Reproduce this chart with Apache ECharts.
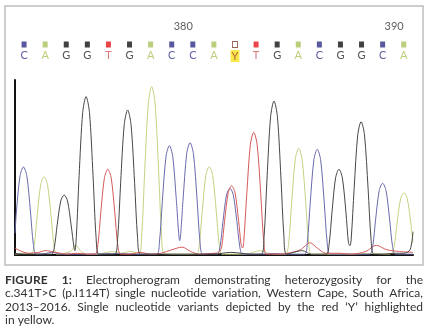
<!DOCTYPE html>
<html>
<head>
<meta charset="utf-8">
<script src="https://cdn.jsdelivr.net/npm/echarts@6/dist/echarts.min.js"></script>
<style>
  html, body { margin: 0; padding: 0; background: #fff; }
  #chart { width: 431px; height: 334px; }
</style>
</head>
<body>
<div id="chart"></div>
<script>
// base calls, one per base position (x = index)
const bases = ['C', 'A', 'G', 'G', 'T', 'G', 'A', 'C', 'C', 'A', 'Y', 'T', 'G', 'A', 'C', 'G', 'G', 'C', 'A'];
// position numbers shown above the sequence
const tickBases = [8, 18];
const tickLabels = ['380', '390'];

// traces: [base position, signal]
const traceC = [
  [-0.43, 125], [-0.36, 252], [-0.19, 453], [-0.03, 503], [0.13, 453], [0.30, 252], [0.44, 60], [0.57, 5],
  [1.0, 8], [1.3, 15], [1.8, 5], [3.0, 5], [4.5, 8], [5.5, 5], [6.29, 5],
  [6.42, 75], [6.56, 313], [6.73, 563], [6.89, 625], [7.05, 563], [7.22, 313], [7.38, 82],
  [7.54, 321], [7.71, 578], [7.87, 642], [8.03, 578], [8.2, 321], [8.34, 77], [8.47, 5],
  [9.0, 8], [9.16, 5], [9.29, 46], [9.43, 191], [9.6, 343], [9.76, 381], [9.92, 343], [10.09, 191], [10.23, 46], [10.36, 5],
  [11.0, 5], [12.0, 8], [12.5, 5], [13.3, 5],
  [13.43, 72], [13.57, 302], [13.74, 544], [13.9, 604], [14.06, 544], [14.23, 302], [14.37, 72], [14.5, 5],
  [15.0, 5], [16.0, 5], [16.4, 5],
  [16.53, 49], [16.67, 205], [16.84, 369], [17.0, 410], [17.16, 369], [17.33, 205], [17.47, 49], [17.6, 5], [18.44, 5]
];
const traceA = [
  [-0.43, 5], [0.1, 10], [0.35, 8],
  [0.48, 54], [0.62, 224], [0.79, 402], [0.95, 447], [1.11, 402], [1.28, 224], [1.42, 54], [1.55, 5],
  [2.2, 20], [2.45, 55], [2.7, 20], [3.0, 5], [3.5, 5], [4.2, 20], [4.6, 10], [5.0, 20], [5.45, 10],
  [5.58, 115], [5.72, 481], [5.89, 866], [6.05, 962], [6.21, 866], [6.38, 481], [6.52, 115], [6.65, 8],
  [7.5, 5], [8.18, 8],
  [8.31, 61], [8.45, 253], [8.62, 455], [8.78, 505], [8.94, 455], [9.11, 253], [9.25, 61], [9.38, 5],
  [10.0, 5], [10.5, 5], [11.2, 25], [11.6, 10], [12.2, 5], [12.42, 5],
  [12.55, 73], [12.69, 305], [12.86, 549], [13.02, 610], [13.18, 549], [13.35, 305], [13.49, 73], [13.62, 5],
  [14.0, 5], [15.5, 5], [16.5, 10], [17.2, 5], [17.41, 8],
  [17.54, 43], [17.68, 178], [17.85, 320], [18.01, 356], [18.17, 320], [18.34, 178], [18.44, 70]
];
const traceG = [
  [-0.43, 10], [0.0, 5], [0.5, 5], [1.0, 5], [1.3, 5],
  [1.43, 41], [1.57, 172], [1.74, 309], [1.9, 343], [2.06, 309], [2.23, 172], [2.37, 41], [2.41, 25],
  [2.48, 109], [2.61, 453], [2.78, 815], [2.94, 905], [3.1, 815], [3.27, 453], [3.41, 109], [3.54, 5],
  [3.9, 5], [4.31, 5],
  [4.44, 99], [4.58, 415], [4.75, 746], [4.91, 829], [5.07, 746], [5.24, 415], [5.38, 99], [5.51, 5],
  [6.0, 5], [7.0, 5], [8.0, 5], [9.0, 5], [9.8, 15], [10.3, 10], [10.7, 5], [11.25, 5],
  [11.38, 106], [11.52, 440], [11.69, 792], [11.85, 880], [12.01, 792], [12.18, 440], [12.32, 106], [12.45, 5],
  [13.2, 25], [13.6, 5], [14.33, 5],
  [14.46, 59], [14.6, 245], [14.77, 441], [14.93, 490], [15.09, 441], [15.26, 245], [15.38, 70], [15.45, 53],
  [15.51, 91], [15.65, 381], [15.82, 686], [15.98, 762], [16.14, 686], [16.31, 381], [16.45, 91], [16.58, 5],
  [17.0, 5], [17.6, 10], [18.0, 10], [18.3, 30], [18.44, 133]
];
const traceT = [
  [-0.43, 40], [-0.2, 25], [0.2, 10], [0.7, 15], [1.0, 25], [1.5, 15], [2.0, 5], [2.5, 10], [3.0, 5], [3.37, 5],
  [3.5, 59], [3.64, 245], [3.81, 441], [3.97, 490], [4.13, 441], [4.3, 245], [4.44, 59], [4.57, 5],
  [5.0, 5], [5.5, 15], [6.0, 5], [6.5, 10], [7.0, 30], [7.5, 45], [7.9, 20], [8.3, 5], [9.0, 10], [9.24, 15],
  [9.37, 48], [9.51, 198], [9.68, 356], [9.84, 396], [10.0, 356], [10.17, 198], [10.29, 60], [10.36, 40],
  [10.42, 84], [10.56, 351], [10.73, 631], [10.89, 701], [11.05, 631], [11.22, 351], [11.36, 84], [11.49, 5],
  [12.0, 5], [12.5, 10], [13.1, 30], [13.55, 70], [13.9, 40], [14.3, 10], [15.0, 10], [15.5, 5],
  [16.2, 20], [16.7, 55], [17.2, 30], [17.8, 20], [18.44, 15]
];

const captionLines = [
  'FIGURE 1: Electropherogram demonstrating heterozygosity for the',
  'c.341T>C (p.I114T) single nucleotide variation, Western Cape, South Africa,',
  '2013\u20132016. Single nucleotide variants depicted by the red \u2018Y\u2019 highlighted',
  'in yellow.'
];

const baseStyle = {
  C: { square: '#2e2e88', text: '#34348a' },
  A: { square: '#a9c35a', text: '#a9c35a' },
  G: { square: '#111111', text: '#222222' },
  T: { square: '#e6161c', text: '#d45a5a' },
  Y: { square: '#ffffff', text: '#b0403a' }
};
const traceColors = { C: '#6a6aae', A: '#c4d282', G: '#474747', T: '#d65a5a' };

const chart = echarts.init(document.getElementById('chart'), null, { renderer: 'canvas' });

// caption: justified lines, word by word
const FONT = 'Lato';
const ctx = document.createElement('canvas').getContext('2d');
function wordWidth(w, size, bold) {
  ctx.font = (bold ? 'bold ' : '') + size + 'px ' + FONT;
  return ctx.measureText(w).width;
}
const capLeft = 5, capRight = 423;
ctx.font = '11px ' + FONT;
const capSize = Math.min(12, 11 * (capRight - capLeft - 1) / ctx.measureText(captionLines[1]).width);
const capY = [280, 293.5, 307, 320];
const captionGraphics = [];
captionLines.forEach((line, li) => {
  const words = line.split(' ');
  const isBold = (wi) => li === 0 && wi < 2;
  const widths = words.map((w, wi) => wordWidth(w, capSize, isBold(wi)));
  const total = widths.reduce((a, b) => a + b, 0);
  const last = li === captionLines.length - 1;
  const gap = last ? wordWidth(' ', capSize, false) : (capRight - capLeft - total) / (words.length - 1);
  let x = capLeft;
  words.forEach((w, wi) => {
    captionGraphics.push({
      type: 'text', x: x, y: capY[li],
      style: {
        text: w, fill: '#333',
        font: (isBold(wi) ? 'bold ' : '') + capSize + 'px ' + FONT,
        verticalAlign: 'middle', textVerticalAlign: 'middle'
      }
    });
    x += widths[wi] + gap;
  });
});

const xMin = -0.43, xMax = 18.44;

function traceSeries(name, data) {
  return {
    name: name, type: 'line', xAxisIndex: 0, yAxisIndex: 0,
    data: data, showSymbol: false, smooth: 0.3, silent: true,
    lineStyle: { width: 1, color: traceColors[name] }
  };
}

const option = {
  backgroundColor: '#fff',
  animation: false,
  grid: [
    { left: 15, right: 18, top: 80, bottom: 79 },
    { left: 15, right: 18, top: 20, height: 40 }
  ],
  xAxis: [
    {
      type: 'value', gridIndex: 0, min: xMin, max: xMax,
      axisLine: { show: true, onZero: false, lineStyle: { color: '#111', width: 2 } },
      axisTick: { show: false }, axisLabel: { show: false }, splitLine: { show: false }
    },
    { type: 'value', gridIndex: 1, min: xMin, max: xMax, show: false }
  ],
  yAxis: [
    {
      type: 'value', gridIndex: 0, min: 0, max: 1000,
      axisLine: { show: true, onZero: false, lineStyle: { color: '#111', width: 2 } },
      axisTick: { show: false }, axisLabel: { show: false }, splitLine: { show: false }
    },
    { type: 'value', gridIndex: 1, min: 0, max: 4, inverse: true, show: false }
  ],
  series: [
    traceSeries('A', traceA),
    traceSeries('C', traceC),
    traceSeries('T', traceT),
    traceSeries('G', traceG),
    {
      type: 'scatter', xAxisIndex: 1, yAxisIndex: 1, silent: true,
      symbol: 'rect', symbolSize: [5, 6],
      data: bases.map((b, i) => ({
        name: b, value: [i, 2.45],
        itemStyle: b === 'Y'
          ? { color: '#fff', borderColor: '#7a3a2a', borderWidth: 1 }
          : { color: baseStyle[b].square },
        label: b === 'Y'
          ? { color: baseStyle[b].text, backgroundColor: '#f4e41c', padding: [1, 1, 0, 1] }
          : { color: baseStyle[b].text }
      })),
      label: {
        show: true, position: 'bottom', distance: 2,
        formatter: p => p.name, fontSize: 11, fontFamily: FONT
      }
    },
    {
      type: 'scatter', xAxisIndex: 1, yAxisIndex: 1, silent: true,
      symbolSize: 0,
      data: tickBases.map((b, i) => ({ name: tickLabels[i], value: [b, 0.6] })),
      label: {
        show: true, position: 'left', distance: 0,
        formatter: p => p.name, fontSize: 11, fontFamily: FONT, color: '#333'
      }
    }
  ],
  graphic: [
    {
      type: 'rect', shape: { x: 5, y: 6, width: 418, height: 259 },
      style: { fill: 'none', stroke: '#bdbdbd', lineWidth: 1.5 }
    }
  ].concat(captionGraphics)
};

chart.setOption(option);
</script>
</body>
</html>
